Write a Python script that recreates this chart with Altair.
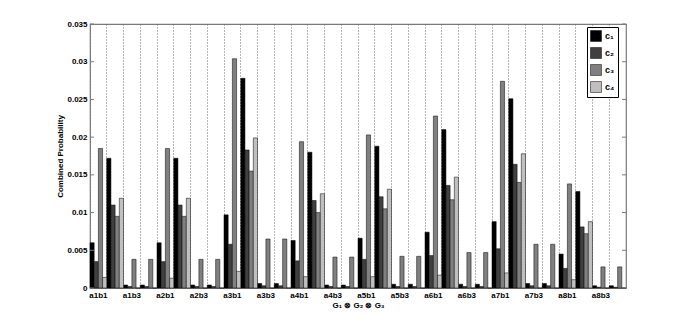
import altair as alt
import pandas as pd

groups = [
    "a1b1", "a1b2", "a1b3", "a1b4", "a2b1", "a2b2", "a2b3", "a2b4",
    "a3b1", "a3b2", "a3b3", "a3b4", "a4b1", "a4b2", "a4b3", "a4b4",
    "a5b1", "a5b2", "a5b3", "a5b4", "a6b1", "a6b2", "a6b3", "a6b4",
    "a7b1", "a7b2", "a7b3", "a7b4", "a8b1", "a8b2", "a8b3", "a8b4",
]
series = ["c₁", "c₂", "c₃", "c₄"]

c1 = [0.0060, 0.0172, 0.0004, 0.0004, 0.0060, 0.0172, 0.0004, 0.0004,
      0.0097, 0.0278, 0.0006, 0.0006, 0.0063, 0.0180, 0.0004, 0.0004,
      0.0066, 0.0188, 0.0005, 0.0005, 0.0074, 0.0210, 0.0005, 0.0005,
      0.0088, 0.0251, 0.0006, 0.0006, 0.0045, 0.0128, 0.0003, 0.0003]
c2 = [0.0035, 0.0110, 0.0002, 0.0002, 0.0035, 0.0110, 0.0002, 0.0002,
      0.0058, 0.0183, 0.0003, 0.0003, 0.0036, 0.0116, 0.0002, 0.0002,
      0.0038, 0.0121, 0.0002, 0.0002, 0.0043, 0.0136, 0.0002, 0.0002,
      0.0052, 0.0164, 0.0003, 0.0003, 0.0026, 0.0081, 0.0001, 0.0001]
c3 = [0.0185, 0.0095, 0.0038, 0.0038, 0.0185, 0.0095, 0.0038, 0.0038,
      0.0304, 0.0155, 0.0065, 0.0065, 0.0194, 0.0100, 0.0041, 0.0041,
      0.0203, 0.0105, 0.0042, 0.0042, 0.0228, 0.0117, 0.0047, 0.0047,
      0.0274, 0.0140, 0.0058, 0.0058, 0.0138, 0.0072, 0.0028, 0.0028]
c4 = [0.0014, 0.0119, 0.0, 0.0, 0.0013, 0.0119, 0.0, 0.0,
      0.0022, 0.0199, 0.0, 0.0, 0.0015, 0.0125, 0.0, 0.0,
      0.0015, 0.0131, 0.0, 0.0, 0.0017, 0.0147, 0.0, 0.0,
      0.0020, 0.0178, 0.0, 0.0, 0.0011, 0.0088, 0.0, 0.0]

y_ticks = [0, 0.005, 0.01, 0.015, 0.02, 0.025, 0.03, 0.035]
colors = ["#000000", "#404040", "#808080", "#bfbfbf"]

rows = []
for s, vals in zip(series, [c1, c2, c3, c4]):
    for g, v in zip(groups, vals):
        rows.append({"group": g, "series": s, "value": v})
df = pd.DataFrame(rows)
ticks_df = pd.DataFrame({"value": y_ticks})

W, H = 536, 264
FONT = "Liberation Sans"

y_axis = alt.Axis(values=y_ticks,
                  labelExpr="datum.value == 0 ? '0' : format(datum.value, '.3~f')",
                  tickSize=0, labelPadding=3,
                  labelOverlap=False, labelFlush=False,
                  domain=False, grid=False, title="Combined Probability",
                  titlePadding=2)
y_scale = alt.Scale(domain=[0, 0.035], nice=False, zero=True)


def y_enc():
    return alt.Y("value:Q", scale=y_scale, axis=y_axis, title="Combined Probability")


bars = alt.Chart(df).mark_bar(stroke="black", strokeWidth=0.5).encode(
    x=alt.X(
        "group:N", sort=groups,
        scale=alt.Scale(paddingInner=0, paddingOuter=0),
        axis=alt.Axis(
            bandPosition=0,
            labelExpr="(slice(datum.value, 3) == '1' || slice(datum.value, 3) == '3') ? datum.value : ''",
            labelAngle=0, labelPadding=3, tickSize=0, domain=False,
            labelOverlap=False,
            grid=True, gridDash=[1, 2], gridColor="#6a6a6a", gridWidth=1,
            title="G₁ ⊗ G₂ ⊗ G₃", titlePadding=2,
        ),
    ),
    xOffset=alt.XOffset("series:N", sort=series,
                        scale=alt.Scale(paddingInner=0, paddingOuter=0)),
    y=y_enc(),
    color=alt.Color(
        "series:N", sort=series,
        scale=alt.Scale(domain=series, range=colors),
        legend=alt.Legend(
            title=None, orient="none", legendX=497, legendY=3,
            direction="vertical", strokeColor="black", fillColor="white",
            padding=3, symbolType="square", symbolSize=120,
            symbolStrokeColor="black", symbolStrokeWidth=0.5,
            symbolOpacity=1, labelFontSize=9, labelFont=FONT,
            labelFontWeight="bold", rowPadding=3, labelOffset=3,
        ),
    ),
)

left_ticks = alt.Chart(ticks_df).mark_rule(color="#7a7a7a", strokeWidth=1).encode(
    y=y_enc(), x=alt.value(0), x2=alt.value(4)
)
right_ticks = alt.Chart(ticks_df).mark_rule(color="#7a7a7a", strokeWidth=1).encode(
    y=y_enc(), x=alt.value(W - 4), x2=alt.value(W)
)

chart = alt.layer(bars, left_ticks, right_ticks).properties(
    width=W, height=H,
    autosize=alt.AutoSizeParams(type="none"),
    padding={"left": 82, "top": 16, "right": 58, "bottom": 30},
).configure_view(
    stroke="#7a7a7a", strokeWidth=1.2
).configure_axis(
    labelFont=FONT, labelFontSize=8, labelFontWeight="bold", labelColor="black",
    titleFont=FONT, titleFontSize=8, titleFontWeight="bold", titleColor="black",
)

chart.save("out.html", embed_options={"renderer": "svg", "actions": False})
